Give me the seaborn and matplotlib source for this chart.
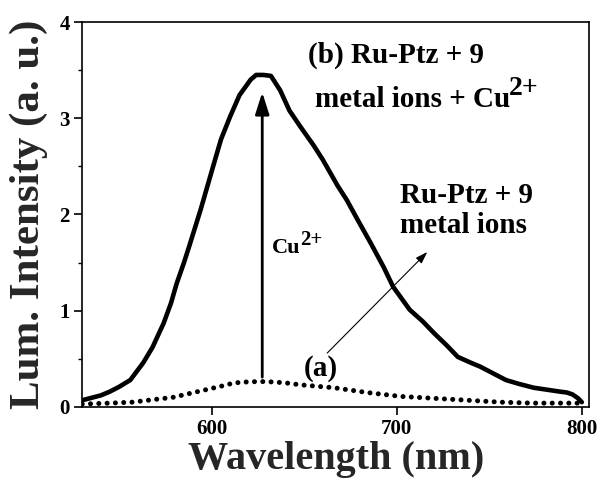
import matplotlib
matplotlib.use("Agg")
import matplotlib.pyplot as plt
import seaborn as sns
import pandas as pd

# Emission spectrum after adding Cu2+ (curve b)
wl_b = [530, 534, 540, 545, 550, 556, 563, 568, 574, 578, 581, 585, 588, 594,
        600, 605, 610, 615, 621, 624, 628, 632, 637, 642, 648, 655, 660, 668,
        673, 679, 686, 693, 698, 707, 714, 720, 727, 733, 740, 745, 752, 759,
        766, 774, 781, 788, 792, 795, 798, 800]
lum_b = [0.07, 0.09, 0.12, 0.16, 0.21, 0.28, 0.46, 0.62, 0.87, 1.08, 1.28, 1.50,
         1.68, 2.05, 2.45, 2.78, 3.02, 3.24, 3.40, 3.45, 3.45, 3.44, 3.29, 3.08,
         2.91, 2.72, 2.57, 2.30, 2.15, 1.94, 1.70, 1.45, 1.25, 1.01, 0.89, 0.77,
         0.64, 0.52, 0.46, 0.42, 0.35, 0.28, 0.24, 0.20, 0.18, 0.16, 0.15, 0.13,
         0.09, 0.05]

# Emission spectrum with the nine metal ions only (curve a)
wl_a = [530, 545, 557, 570, 579, 588, 597, 606, 612, 619, 626, 633, 640, 648,
        657, 666, 675, 684, 693, 702, 711, 720, 729, 738, 747, 756, 765, 774,
        782, 790, 800]
lum_a = [0.03, 0.04, 0.05, 0.08, 0.10, 0.14, 0.18, 0.22, 0.25, 0.26, 0.265,
         0.26, 0.25, 0.23, 0.215, 0.20, 0.175, 0.15, 0.13, 0.11, 0.10, 0.09,
         0.08, 0.07, 0.06, 0.05, 0.045, 0.04, 0.04, 0.04, 0.04]

x_ticks = [600, 700, 800]
y_ticks = [0, 1, 2, 3, 4]

sns.set_theme(style="ticks")
plt.rcParams["font.family"] = ["Liberation Serif", "DejaVu Serif"]
plt.rcParams["font.weight"] = "bold"
plt.rcParams["axes.labelweight"] = "bold"

df_b = pd.DataFrame({"Wavelength": wl_b, "Intensity": lum_b})
df_a = pd.DataFrame({"Wavelength": wl_a, "Intensity": lum_a})

fig = plt.figure(figsize=(6.0, 4.86), dpi=100)
ax = fig.add_axes([0.137, 0.1626, 0.845, 0.7921])

sns.lineplot(data=df_b, x="Wavelength", y="Intensity", ax=ax, color="black",
             linewidth=3.3, sort=False, estimator=None)
sns.lineplot(data=df_a, x="Wavelength", y="Intensity", ax=ax, color="black",
             linewidth=3.6, linestyle=(0, (0.01, 1.65)), dash_capstyle="round",
             sort=False, estimator=None)

ax.set_xlim(530, 804)
ax.set_ylim(0, 4)
ax.set_xticks(x_ticks)
ax.set_yticks(y_ticks)
ax.set_yticks([0.5, 1.5, 2.5, 3.5], minor=True)
ax.tick_params(axis="both", which="major", direction="out", length=6, width=1.2,
               labelsize=15, color="black", labelcolor="black", pad=3)
ax.tick_params(axis="y", which="minor", direction="out", length=3, width=1.0,
               color="black")
for lab in ax.get_xticklabels() + ax.get_yticklabels():
    lab.set_fontweight("bold")
for sp in ax.spines.values():
    sp.set_visible(True)
    sp.set_color("black")
    sp.set_linewidth(1.2)

ax.set_xlabel("Wavelength (nm)", fontsize=29, fontweight="bold", labelpad=1)
ax.set_ylabel("Lum. Intensity (a. u.)", fontsize=31, fontweight="bold", labelpad=8)

txt_kw = dict(fontsize=21, fontweight="bold", color="black", ha="left", va="baseline")

ax.text(652, 3.58, "(b) Ru-Ptz + 9", **txt_kw)
t1 = ax.text(656, 3.12, "metal ions + Cu", **txt_kw)
ax.annotate("2+", xy=(0.99, 0.42), xycoords=t1, ha="left", va="bottom",
            fontsize=20, fontweight="bold", color="black")

ax.text(702, 2.12, "Ru-Ptz + 9", **txt_kw)
ax.text(702, 1.81, "metal ions", **txt_kw)
ax.text(649.5, 0.33, "(a)", **txt_kw)

t2 = ax.text(632.7, 1.60, "Cu", fontsize=16, fontweight="bold", color="black",
             ha="left", va="baseline")
ax.annotate("2+", xy=(0.98, 0.42), xycoords=t2, ha="left", va="bottom",
            fontsize=15, fontweight="bold", color="black")

# Cu2+-induced enhancement arrow
ax.annotate("", xy=(627.3, 3.27), xytext=(627.3, 0.31),
            arrowprops=dict(arrowstyle="-|>,head_length=1.1,head_width=0.35",
                            color="black", lw=2.0, shrinkA=0, shrinkB=0))
# Pointer from curve (a) to its label
ax.annotate("", xy=(716.5, 1.61), xytext=(662.4, 0.56),
            arrowprops=dict(arrowstyle="-|>,head_length=0.6,head_width=0.2",
                            color="black", lw=0.8, shrinkA=0, shrinkB=0))

fig.savefig("out.png", dpi=100, facecolor="white")
